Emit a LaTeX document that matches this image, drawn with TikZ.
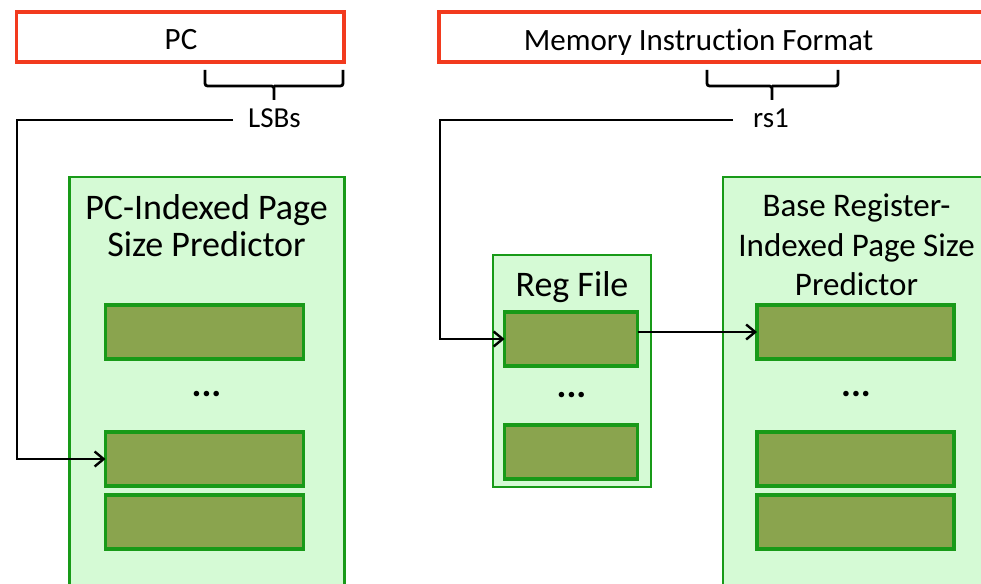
\documentclass[tikz,border=0pt]{standalone}
\usepackage{fontspec}
\setmainfont{Carlito}[Ligatures={NoCommon}]
\usetikzlibrary{arrows.meta}
\definecolor{fmtred}{RGB}{242,58,30}
\definecolor{tblgreen}{RGB}{24,154,24}
\definecolor{tblfill}{RGB}{213,250,213}
\definecolor{entryfill}{RGB}{138,164,78}
\tikzset{
  fmtbox/.style={draw=fmtred, line width=3.5pt, fill=white, inner sep=0pt, outer sep=0pt},
  tblbox/.style={draw=tblgreen, line width=2.6pt, fill=tblfill, inner sep=0pt, outer sep=0pt},
  entrybox/.style={draw=tblgreen, line width=3.5pt, fill=entryfill, inner sep=0pt, outer sep=0pt,
    minimum height=54pt},
  fmttext/.style={font=\fontsize{31}{36}\selectfont, inner sep=0pt, anchor=base},
  bigtitle/.style={font=\fontsize{36}{40}\selectfont, inner sep=0pt, anchor=base},
  smalltitle/.style={font=\fontsize{33}{40}\selectfont, inner sep=0pt, anchor=base},
  fieldtext/.style={font=\fontsize{29}{34}\selectfont, inner sep=0pt, anchor=base west},
  dotstext/.style={font=\fontsize{37}{40}\selectfont\bfseries, inner sep=0pt, anchor=base},
  bracket/.style={line width=2.8pt, rounded corners=2.5pt},
  wire/.style={line width=2.4pt, -{Straight Barb[length=9pt,width=15pt,line width=2.4pt]}},
}
\begin{document}
\begin{tikzpicture}[x=1pt,y=-1pt]
\useasboundingbox (0,0) rectangle (981,583);
\clip (0,0) rectangle (981,583);

% instruction-side format registers
\node[fmtbox, minimum width=327.5pt, minimum height=50pt] (pc) at (180.2,37) {};
\node[fmttext] (pclabel) at (181,50) {PC};
\node[fmtbox, minimum width=560pt, minimum height=50pt, anchor=west] (mif) at (439,37) {};
\node[fmttext] (miflabel) at (698.5,51) {Memory Instruction Format};

% field brackets
\draw[bracket] (205,70) |- (274,86) -- (274,100) (274,86) -| (343,70);
\draw[bracket] (707,70) |- (772,86) -- (772,100) (772,86) -| (838,70);
\node[fieldtext] (lsb) at (248,127) {LSBs};
\node[fieldtext] (rs) at (753,127) {rs1};

% PC-indexed predictor
\node[tblbox, minimum width=275pt, minimum height=440pt, anchor=north west] (pcpred) at (69.2,177) {};
\node[bigtitle] (pct1) at (206.5,219) {PC-Indexed Page};
\node[bigtitle] (pct2) at (206.5,256) {Size Predictor};
\node[entrybox, minimum width=198pt] (pce1) at (204.5,332) {};
\node[dotstext] (pcdots) at (206.5,396) {...};
\node[entrybox, minimum width=198pt] (pce2) at (204.5,459) {};
\node[entrybox, minimum width=198pt] (pce3) at (204.5,522) {};

% register file
\node[tblbox, minimum width=158pt, minimum height=232pt, anchor=north west] (rf) at (493,255) {};
\node[bigtitle] (rftitle) at (572,296) {Reg File};
\node[entrybox, minimum width=133pt] (rfe1) at (571,339) {};
\node[dotstext] (rfdots) at (571.5,397) {...};
\node[entrybox, minimum width=133pt] (rfe2) at (571,452) {};

% base-register-indexed predictor
\node[tblbox, minimum width=300pt, minimum height=440pt, anchor=north west] (brpred) at (723,177) {};
\node[smalltitle] (brt1) at (856.5,216) {Base Register-};
\node[smalltitle] (brt2) at (856.5,256) {Indexed Page Size};
\node[smalltitle] (brt3) at (856.5,295) {Predictor};
\node[entrybox, minimum width=197pt] (bre1) at (855.5,332) {};
\node[dotstext] (brdots) at (856,396) {...};
\node[entrybox, minimum width=197pt] (bre2) at (855.5,459) {};
\node[entrybox, minimum width=197pt] (bre3) at (855.5,522) {};

% index paths
\coordinate (lsbend) at (233,120);
\coordinate (lsbturn) at (17,120);
\coordinate (rsend) at (733,120);
\coordinate (rsturn) at (440,120);
\draw[wire] (lsbend) -- (lsbturn) |- (pce2.west);
\draw[wire] (rsend) -- (rsturn) |- (rfe1.west);
\draw[wire] (rfe1.east |- bre1.west) -- (bre1.west);
\end{tikzpicture}
\end{document}
